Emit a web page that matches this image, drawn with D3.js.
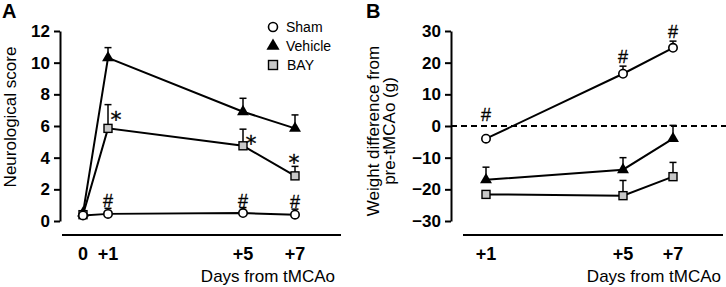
<!DOCTYPE html>
<html>
<head>
<meta charset="utf-8">
<script src="https://cdn.jsdelivr.net/npm/d3@7"></script>
<style>
  body { margin: 0; background: #fff; }
  svg { font-family: "Liberation Sans", Arial, sans-serif; }
  .sig { fill: #000; stroke: #000; stroke-width: 0.3; }
</style>
</head>
<body>
<div id="chart"></div>
<script>
// Panel A: neurological score
var daysA = [0, 1, 5, 7];
var shamA = [0.35, 0.45, 0.5, 0.4];
var shamAErr = [0.1, 0.35, 0.35, 0.35];
var vehA = [0.5, 10.3, 6.9, 5.85];
var vehAErr = [0.1, 0.65, 0.85, 0.85];
var bayA = [0.4, 5.85, 4.75, 2.85];
var bayAErr = [0.1, 1.5, 1.05, 0.6];
var ticksA = [0, 2, 4, 6, 8, 10, 12];
var starsA = [{ day: 1, pos: "right" }, { day: 5, pos: "right" }, { day: 7, pos: "above" }];
var hashA = [1, 5, 7];

// Panel B: weight difference
var daysB = [1, 5, 7];
var shamB = [-4, 16.5, 24.7];
var shamBErr = [0.5, 2.4, 2.1];
var vehB = [-17, -13.8, -4];
var vehBErr = [4, 3.8, 4.2];
var bayB = [-21.6, -22, -16];
var bayBErr = [1, 4.8, 4.5];
var ticksB = [-30, -20, -10, 0, 10, 20, 30];
var hashB = [1, 5, 7];

var dayLabels = { 0: "0", 1: "+1", 5: "+5", 7: "+7" };

var width = 726, height = 287;

var svg = d3.select("#chart")
  .append("svg")
  .attr("width", width)
  .attr("height", height);

// scales (x is not linear in the original, so piecewise)
var xA = d3.scaleLinear().domain(daysA).range([83, 108, 243, 295]);
var yA = d3.scaleLinear().domain([0, 12]).range([221, 31]);
var xB = d3.scaleLinear().domain(daysB).range([486, 623, 673]);
var yB = d3.scaleLinear().domain([-30, 30]).range([221, 31]);

function drawAxes(g, x, y, ticks, axisX, lineX0, lineX1, days, titleRight) {
  var ax = g.append("g")
    .attr("transform", "translate(" + axisX + ",0)")
    .call(d3.axisLeft(y).tickValues(ticks).tickSize(6).tickPadding(4).tickSizeOuter(0));
  ax.select(".domain").attr("stroke-width", 2);
  ax.selectAll(".tick line").attr("stroke-width", 2);
  ax.selectAll(".tick text")
    .attr("font-size", 17)
    .attr("font-weight", "bold")
    .attr("font-family", "Liberation Sans, Arial, sans-serif")
    .attr("fill", "#000");

  g.append("line")
    .attr("x1", lineX0).attr("x2", lineX1)
    .attr("y1", 235).attr("y2", 235)
    .attr("stroke", "#000").attr("stroke-width", 2);

  g.selectAll(".xlab")
    .data(days)
    .enter()
    .append("text")
    .attr("x", function(d) { return x(d); })
    .attr("y", 260)
    .attr("text-anchor", "middle")
    .attr("font-size", 18)
    .attr("font-weight", "bold")
    .text(function(d) { return dayLabels[d]; });

  g.append("text")
    .attr("x", titleRight)
    .attr("y", 282)
    .attr("text-anchor", "end")
    .attr("font-size", 17)
    .text("Days from tMCAo");
}

function drawSeries(g, x, y, days, vals, errs) {
  var pts = days.map(function(d, i) { return { day: d, v: vals[i], e: errs[i] }; });

  // error bars (upward only)
  var eb = g.append("g");
  eb.selectAll("line.bar")
    .data(pts)
    .enter()
    .append("line")
    .attr("x1", function(d) { return x(d.day); })
    .attr("x2", function(d) { return x(d.day); })
    .attr("y1", function(d) { return y(d.v); })
    .attr("y2", function(d) { return y(d.v + d.e); })
    .attr("stroke", "#000").attr("stroke-width", 1.5);
  eb.selectAll("line.cap")
    .data(pts)
    .enter()
    .append("line")
    .attr("x1", function(d) { return x(d.day) - 3.5; })
    .attr("x2", function(d) { return x(d.day) + 3.5; })
    .attr("y1", function(d) { return y(d.v + d.e); })
    .attr("y2", function(d) { return y(d.v + d.e); })
    .attr("stroke", "#000").attr("stroke-width", 1.5);

  var line = d3.line()
    .x(function(d) { return x(d.day); })
    .y(function(d) { return y(d.v); });

  g.append("path")
    .datum(pts)
    .attr("d", line)
    .attr("fill", "none")
    .attr("stroke", "#000")
    .attr("stroke-width", 2);

  return pts;
}

function drawMarkers(g, x, y, pts, shape) {
  var m = g.append("g");
  if (shape == "circle") {
    m.selectAll("circle")
      .data(pts).enter().append("circle")
      .attr("cx", function(d) { return x(d.day); })
      .attr("cy", function(d) { return y(d.v); })
      .attr("r", 4.2)
      .attr("fill", "#fff").attr("stroke", "#000").attr("stroke-width", 1.6);
  } else if (shape == "triangle") {
    m.selectAll("path")
      .data(pts).enter().append("path")
      .attr("d", d3.symbol().type(d3.symbolTriangle).size(62))
      .attr("transform", function(d) { return "translate(" + x(d.day) + "," + y(d.v) + ")"; })
      .attr("fill", "#000");
  } else {
    m.selectAll("rect")
      .data(pts).enter().append("rect")
      .attr("x", function(d) { return x(d.day) - 4; })
      .attr("y", function(d) { return y(d.v) - 4; })
      .attr("width", 8).attr("height", 8)
      .attr("fill", "#c8c8c8").attr("stroke", "#000").attr("stroke-width", 1.4);
  }
}

// ---------- Panel A ----------
var gA = svg.append("g");
drawAxes(gA, xA, yA, ticksA, 60, 62, 341, daysA, 335);

gA.append("text")
  .attr("transform", "translate(16," + 117 + ") rotate(-90)")
  .attr("text-anchor", "middle")
  .attr("font-size", 17)
  .text("Neurological score");

var vA = drawSeries(gA, xA, yA, daysA, vehA, vehAErr);
var bA = drawSeries(gA, xA, yA, daysA, bayA, bayAErr);
var sA = drawSeries(gA, xA, yA, daysA, shamA, shamAErr);
drawMarkers(gA, xA, yA, vA, "triangle");
drawMarkers(gA, xA, yA, bA, "square");
drawMarkers(gA, xA, yA, sA, "circle");

// significance marks
gA.selectAll(".star")
  .data(starsA)
  .enter()
  .append("text")
  .attr("class", "sig")
  .attr("x", function(d) { return d.pos == "right" ? xA(d.day) + 8 : xA(d.day) - 1; })
  .attr("y", function(d) {
    var i = daysA.indexOf(d.day);
    var cap = yA(bayA[i] + bayAErr[i]);
    return d.pos == "right" ? cap + 22 : cap + 4;
  })
  .attr("text-anchor", "middle")
  .attr("font-size", 22)
  .attr("font-family", "DejaVu Sans, sans-serif")
  .text("*");

gA.selectAll(".hash")
  .data(hashA)
  .enter()
  .append("text")
  .attr("class", "sig")
  .attr("x", function(d) { return xA(d); })
  .attr("y", function(d) {
    var i = daysA.indexOf(d);
    return yA(shamA[i] + shamAErr[i]) - 1;
  })
  .attr("text-anchor", "middle")
  .attr("font-size", 18)
  .text("#");

// legend
var legendItems = [
  { name: "Sham", shape: "circle" },
  { name: "Vehicle", shape: "triangle" },
  { name: "BAY", shape: "square" }
];
var leg = gA.append("g").attr("transform", "translate(273,27)");
legendItems.forEach(function(it, i) {
  var row = leg.append("g").attr("transform", "translate(0," + (i * 19) + ")");
  if (it.shape == "circle") {
    row.append("circle").attr("r", 4.5).attr("fill", "#fff").attr("stroke", "#000").attr("stroke-width", 1.6);
  } else if (it.shape == "triangle") {
    row.append("path").attr("d", d3.symbol().type(d3.symbolTriangle).size(75)).attr("fill", "#000");
  } else {
    row.append("rect").attr("x", -4.5).attr("y", -4.5).attr("width", 9).attr("height", 9)
      .attr("fill", "#c8c8c8").attr("stroke", "#000").attr("stroke-width", 1.4);
  }
  row.append("text")
    .attr("x", it.shape == "square" ? 14 : 13)
    .attr("y", 5)
    .attr("font-size", 14)
    .text(it.name);
});

// panel letters
svg.append("text").attr("x", 2).attr("y", 18).attr("font-size", 20).attr("font-weight", "bold").text("A");
svg.append("text").attr("x", 366).attr("y", 18).attr("font-size", 20).attr("font-weight", "bold").text("B");

// ---------- Panel B ----------
var gB = svg.append("g");
drawAxes(gB, xB, yB, ticksB, 451, 463, 723, daysB, 721);

gB.append("line")
  .attr("x1", 451).attr("x2", 726)
  .attr("y1", yB(0)).attr("y2", yB(0))
  .attr("stroke", "#000").attr("stroke-width", 2)
  .attr("stroke-dasharray", "6,4");

var titleB = gB.append("text")
  .attr("transform", "translate(379," + 131 + ") rotate(-90)")
  .attr("text-anchor", "middle")
  .attr("font-size", 17);
titleB.append("tspan").attr("x", 0).attr("dy", 0).text("Weight difference from");
titleB.append("tspan").attr("x", 0).attr("dy", 16).text("pre-tMCAo (g)");

var vB = drawSeries(gB, xB, yB, daysB, vehB, vehBErr);
var bB = drawSeries(gB, xB, yB, daysB, bayB, bayBErr);
var sB = drawSeries(gB, xB, yB, daysB, shamB, shamBErr);
drawMarkers(gB, xB, yB, vB, "triangle");
drawMarkers(gB, xB, yB, bB, "square");
drawMarkers(gB, xB, yB, sB, "circle");

gB.selectAll(".hash")
  .data(hashB)
  .enter()
  .append("text")
  .attr("class", "sig")
  .attr("x", function(d) { return xB(d); })
  .attr("y", function(d) {
    var i = daysB.indexOf(d);
    // keep the mark above the dashed zero line
    return Math.min(yB(shamB[i] + shamBErr[i]), yB(0) - 2) - 3;
  })
  .attr("text-anchor", "middle")
  .attr("font-size", 18)
  .text("#");
</script>
</body>
</html>
